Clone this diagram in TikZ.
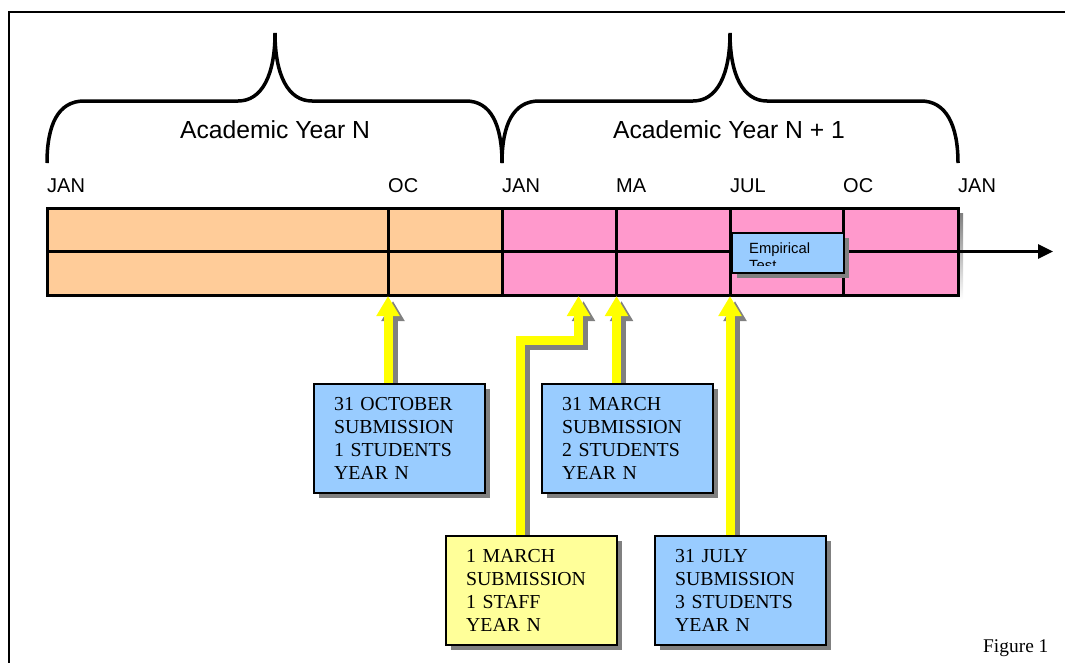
\documentclass[tikz,border=0pt]{standalone}
\usepackage{fontspec}
\setmainfont{Liberation Serif}
\newfontfamily\arialfont{Liberation Sans}
\usetikzlibrary{arrows.meta,shadows}
\definecolor{barorange}{HTML}{FFCC99}
\definecolor{barpink}{HTML}{FF99CC}
\definecolor{boxblue}{HTML}{99CCFF}
\definecolor{boxyellow}{HTML}{FFFF99}
\definecolor{arrowyellow}{HTML}{FFFF00}
\definecolor{shade}{HTML}{808080}
\begin{document}
\begin{tikzpicture}[x=1pt,y=-1pt,
  bracepath/.style={line width=3.5pt},
  month/.style={font=\arialfont\fontsize{20}{24}\selectfont, anchor=base west, inner sep=0pt},
  yeartitle/.style={font=\arialfont\fontsize{24.7}{30}\selectfont, anchor=base, inner sep=0pt},
  infobox/.style={draw=black, line width=2.2pt, minimum width=171pt, minimum height=109pt,
    text width=131pt, inner xsep=20pt, inner ysep=0pt, align=left, anchor=north west,
    font=\fontsize{19.8}{23}\selectfont,
    general shadow={fill=shade, draw=none, shadow xshift=5pt, shadow yshift=-5pt}},
  ylw/.style={draw=arrowyellow, line width=9pt, line join=miter,
    -{Triangle[width=22pt,length=20pt]}},
  ylwshadow/.style={ylw, draw=shade, transform canvas={shift={(5pt,-5pt)}}},
  barline/.style={line width=3pt},
]
\useasboundingbox (0,0) rectangle (1065,662);
% frame
\draw[line width=2pt] (9,670) -- (9,12) -- (1070,12);

% braces
\draw[bracepath] (47,163) .. controls (47,125) and (58,101) .. (84,101) -- (238,101)
  .. controls (262,101) and (275,75) .. (275,33)
  .. controls (275,75) and (288,101) .. (312,101) -- (466,101)
  .. controls (491,101) and (502,125) .. (502,163);
\draw[bracepath] (502,163) .. controls (502,125) and (513,101) .. (539,101) -- (693,101)
  .. controls (717,101) and (730,75) .. (730,33)
  .. controls (730,75) and (743,101) .. (767,101) -- (921,101)
  .. controls (946,101) and (958,125) .. (958,163);
\node[yeartitle] (yearN) at (275,138) {Academic Year N};
\node[yeartitle] (yearN1) at (729,138) {Academic Year N + 1};

% months
\node[month] (m1) at (47,192) {JAN};
\node[month] (m2) at (388,192) {OC};
\node[month] (m3) at (502,192) {JAN};
\node[month] (m4) at (616,192) {MA};
\node[month] (m5) at (730,192) {JUL};
\node[month] (m6) at (843,192) {OC};
\node[month] (m7) at (958,192) {JAN};

% bar
\fill[shade] (52,213) rectangle (963,300);
\fill[barorange] (47,208) rectangle (502,295);
\fill[barpink] (502,208) rectangle (958,295);
\draw[barline] (47,208) rectangle (958,295);
\foreach \x in {388,502,616,730,843} \draw[barline] (\x,208) -- (\x,295);
\coordinate (lineStart) at (47,251.5);
\coordinate (lineEnd) at (1053,251.5);
\draw[barline, -{Triangle[width=14pt,length=15pt]}] (lineStart) -- (lineEnd);

% empirical test box
\node[draw=black, line width=2pt, fill=boxblue, minimum width=112pt, minimum height=40pt,
  inner sep=0pt, anchor=north west,
  general shadow={fill=shade, draw=none, shadow xshift=5pt, shadow yshift=-5pt}]
  (emp) at (731,232) {};
\begin{scope}
  \clip (733,234) rectangle (842,265);
  \node[anchor=north west, inner sep=0pt, align=left,
    font=\arialfont\fontsize{14.8}{17}\selectfont] (empText) at (749,243) {Empirical\\Test};
\end{scope}

% arrow tips on the bar
\coordinate (tOct) at (388,296);
\coordinate (tMarA) at (578.5,296);
\coordinate (tMarB) at (616.5,296);
\coordinate (tJul) at (730,296);
\coordinate (bendA) at (520.5,340);
\coordinate (bendB) at (578.5,340);

% boxes (positions)
\path (313,383) coordinate (pOct) (541,383) coordinate (pMar) (445,535) coordinate (pStaff) (654,535) coordinate (pJul);

% yellow arrows (drawn before boxes)
\path (313,383) -- ++(171,0) coordinate (octTopRight);
\coordinate (octTop) at (388,384);
\coordinate (marTop) at (616.5,384);
\coordinate (staffTop) at (520.5,536);
\coordinate (julTop) at (730,536);
\draw[ylwshadow] (octTop) -- (tOct);
\draw[ylw] (octTop) -- (tOct);
\draw[ylwshadow] (marTop) -- (tMarB);
\draw[ylw] (marTop) -- (tMarB);
\draw[ylwshadow] (staffTop) -- (bendA) -- (bendB) -- (tMarA);
\draw[ylw] (staffTop) -- (bendA) -- (bendB) -- (tMarA);
\draw[ylwshadow] (julTop) -- (tJul);
\draw[ylw] (julTop) -- (tJul);

% boxes
\node[infobox, fill=boxblue] (octBox) at (pOct) {31 OCTOBER\\SUBMISSION\\1 STUDENTS\\YEAR N};
\node[infobox, fill=boxblue] (marBox) at (pMar) {31 MARCH\\SUBMISSION\\2 STUDENTS\\YEAR N};
\node[infobox, fill=boxyellow] (staffBox) at (pStaff) {1 MARCH\\SUBMISSION\\1 STAFF\\YEAR N};
\node[infobox, fill=boxblue] (julBox) at (pJul) {31 JULY\\SUBMISSION\\3 STUDENTS\\YEAR N};

\node[anchor=base west, inner sep=0pt, font=\fontsize{19.4}{23}\selectfont] (fig) at (983,652) {Figure 1};
\end{tikzpicture}
\end{document}
